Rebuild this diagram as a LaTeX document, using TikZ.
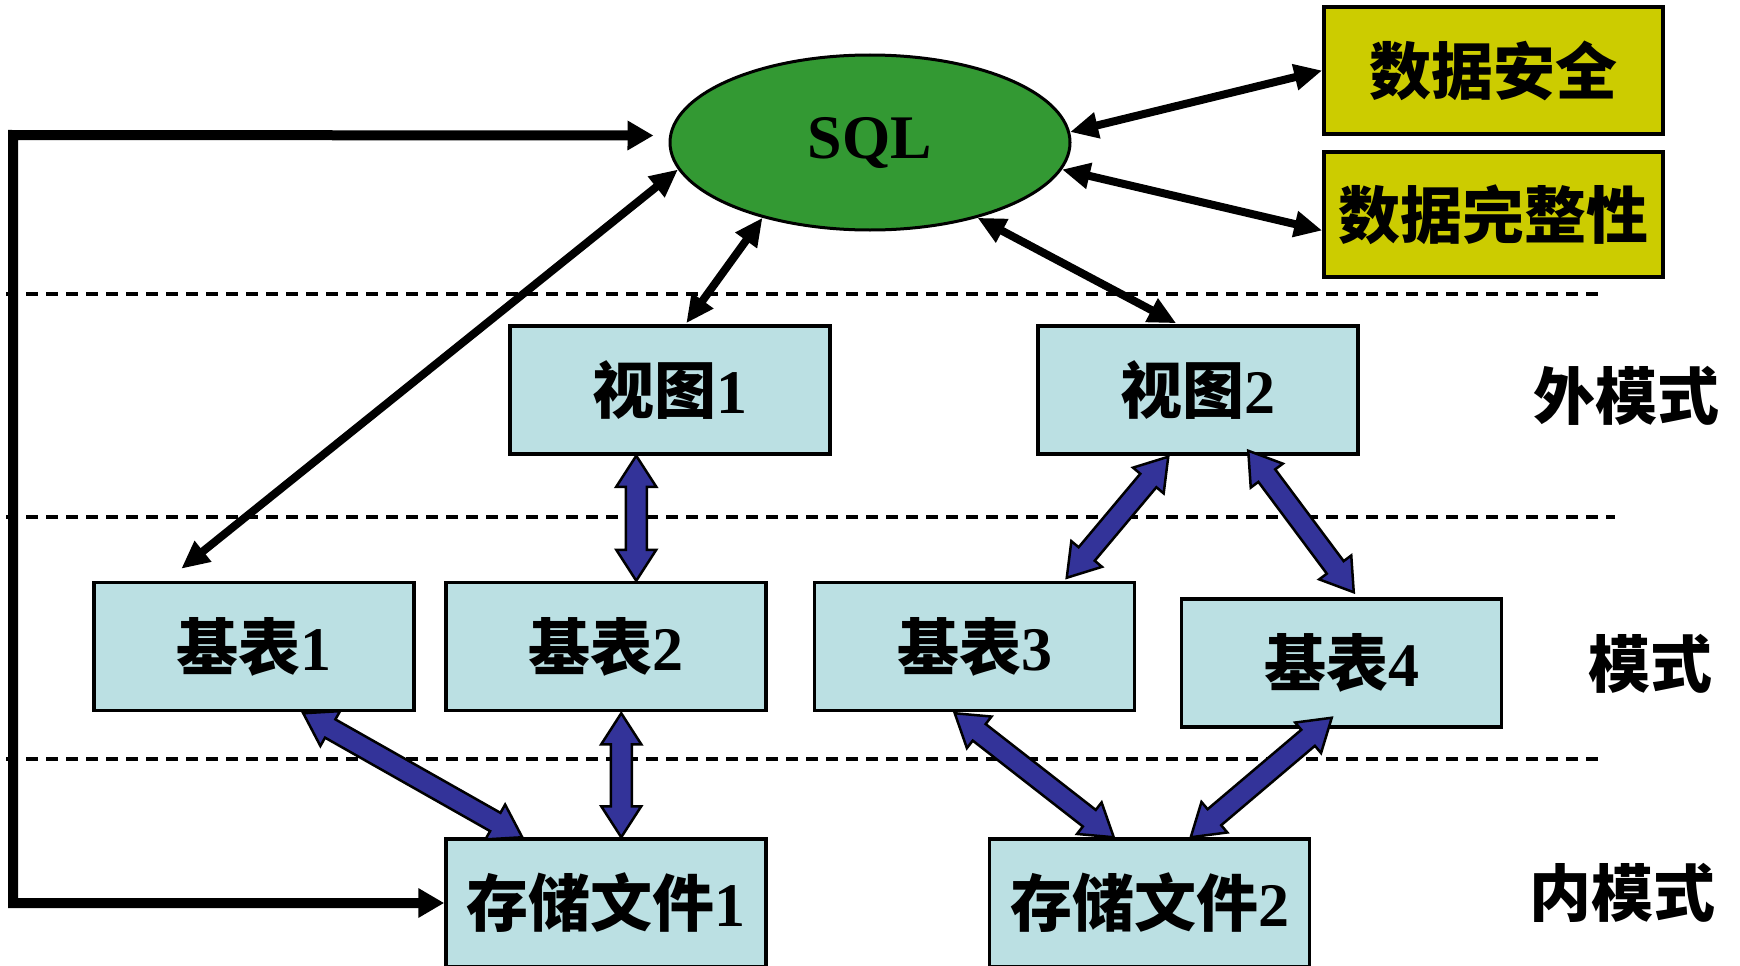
\documentclass[tikz,border=0pt]{standalone}
\usepackage{fontspec}
\setmainfont{Liberation Serif}
\newfontfamily\cjk{Noto Sans CJK SC}
\usetikzlibrary{shapes.geometric,arrows.meta,calc}
\definecolor{sqlgreen}{HTML}{339933}
\definecolor{boxcyan}{HTML}{BBE0E3}
\definecolor{boxyellow}{HTML}{CCCC00}
\definecolor{fatblue}{HTML}{333399}
\newcommand\fatarr[2]{%
  \filldraw[fatstyle] (#1)
   -- ($(#1)!31pt!(#2)!20pt!90:(#2)$)
   -- ($(#1)!31pt!(#2)!10.5pt!90:(#2)$)
   -- ($(#2)!31pt!(#1)!10.5pt!-90:(#1)$)
   -- ($(#2)!31pt!(#1)!20pt!-90:(#1)$)
   -- (#2)
   -- ($(#2)!31pt!(#1)!20pt!90:(#1)$)
   -- ($(#2)!31pt!(#1)!10.5pt!90:(#1)$)
   -- ($(#1)!31pt!(#2)!10.5pt!-90:(#2)$)
   -- ($(#1)!31pt!(#2)!20pt!-90:(#2)$)
   -- cycle;}
\newcommand\cj[1]{{\cjk\bfseries #1}}
\newcommand\dg[1]{{\bfseries #1}}
\begin{document}
\begin{tikzpicture}[x=1pt,y=-1pt,
  txt/.style={font=\fontsize{62}{70}\selectfont},
  cbox/.style={txt,draw=black,line width=3.5pt,fill=boxcyan,minimum width=320pt,minimum height=128pt,inner sep=0pt},
  ybox/.style={txt,draw=black,line width=3.5pt,fill=boxyellow,minimum width=339pt,inner sep=0pt},
  blk/.style={line width=8pt,{Triangle[length=28pt,width=25pt]}-{Triangle[length=28pt,width=25pt]}},
  lp/.style={line width=10pt,line join=miter,{Triangle[length=26pt,width=28pt]}-{Triangle[length=26pt,width=28pt]}},
  dsh/.style={line width=3.5pt,dash pattern=on 12pt off 8pt},
  fatstyle/.style={draw=black,fill=fatblue,line width=2.5pt,line join=miter}]
\useasboundingbox (0,0) rectangle (1740,966);
% dashed separators
\coordinate (d1a) at (6,294); \coordinate (d1b) at (1598,294);
\coordinate (d2a) at (6,517); \coordinate (d2b) at (1615,517);
\coordinate (d3a) at (6,759); \coordinate (d3b) at (1598,759);
\draw[dsh] (d1a) -- (d1b);
\draw[dsh] (d2a) -- (d2b);
\draw[dsh] (d3a) -- (d3b);
% nodes
\node[ellipse,draw=black,line width=3pt,fill=sqlgreen,minimum width=400pt,minimum height=175pt,inner sep=0pt,txt] (sql) at (870,142.5) {\dg{SQL}};
\node[ybox,minimum height=127pt] (sec) at (1493.5,70.5) {\cj{数据安全}};
\node[ybox,minimum height=125pt] (integ) at (1493.5,214.5) {\cj{数据完整性}};
\node[cbox] (v1) at (670,390) {\cj{视图}\dg{1}};
\node[cbox] (v2) at (1198,390) {\cj{视图}\dg{2}};
\node[cbox] (t1) at (254,646.5) {\cj{基表}\dg{1}};
\node[cbox] (t2) at (606,646.5) {\cj{基表}\dg{2}};
\node[cbox] (t3) at (974.5,646.5) {\cj{基表}\dg{3}};
\node[cbox] (t4) at (1341.5,663) {\cj{基表}\dg{4}};
\node[cbox] (f1) at (606,903) {\cj{存储文件}\dg{1}};
\node[cbox] (f2) at (1149.5,903) {\cj{存储文件}\dg{2}};
\node[txt] (lext) at (1626,396) {\cj{外模式}};
\node[txt] (lmid) at (1650,664) {\cj{模式}};
\node[txt] (lint) at (1622,893) {\cj{内模式}};
% black arrows
\draw[blk] (sql.188) -- ($(t1.north west)+(89,-12)$);
\draw[blk] (sql.215) -- ($(v1.north west)+(178,-1)$);
\draw[blk] (sql.325) -- ($(v2.north west)+(140,-1)$);
\draw[blk] (sql.3) -- (sec.west);
\draw[blk] (sql.352) -- ($(integ.west)+(0,16)$);
% loop
\coordinate (lc1) at (13,135);
\coordinate (lc2) at (13,903);
\draw[lp] ($(sql.west)+(-15,-7)$) -- (lc1) -- (lc2) -- (f1.west);
% fat blue arrows
\coordinate (a1) at ($(v1.south west)+(128,0)$);
\coordinate (b1) at ($(t2.north west)+(192,0)$);
\fatarr{a1}{b1}
\coordinate (a2) at ($(v2.south west)+(132,1)$);
\coordinate (b2) at ($(t3.north west)+(254,-3)$);
\fatarr{a2}{b2}
\coordinate (a3) at ($(v2.south west)+(212,-5)$);
\coordinate (b3) at ($(t4.north west)+(174,-5)$);
\fatarr{a3}{b3}
\coordinate (a4) at ($(t1.south west)+(211,1)$);
\coordinate (b4) at ($(f1.north west)+(78,0)$);
\fatarr{a4}{b4}
\coordinate (a5) at ($(t2.south west)+(177,1)$);
\coordinate (b5) at ($(f1.north west)+(177,0)$);
\fatarr{a5}{b5}
\coordinate (a6) at ($(t3.south west)+(142,1)$);
\coordinate (b6) at ($(f2.north west)+(126,0)$);
\fatarr{a6}{b6}
\coordinate (a7) at ($(t4.south west)+(152,-11)$);
\coordinate (b7) at ($(f2.north west)+(203,0)$);
\fatarr{a7}{b7}
\end{tikzpicture}
\end{document}
